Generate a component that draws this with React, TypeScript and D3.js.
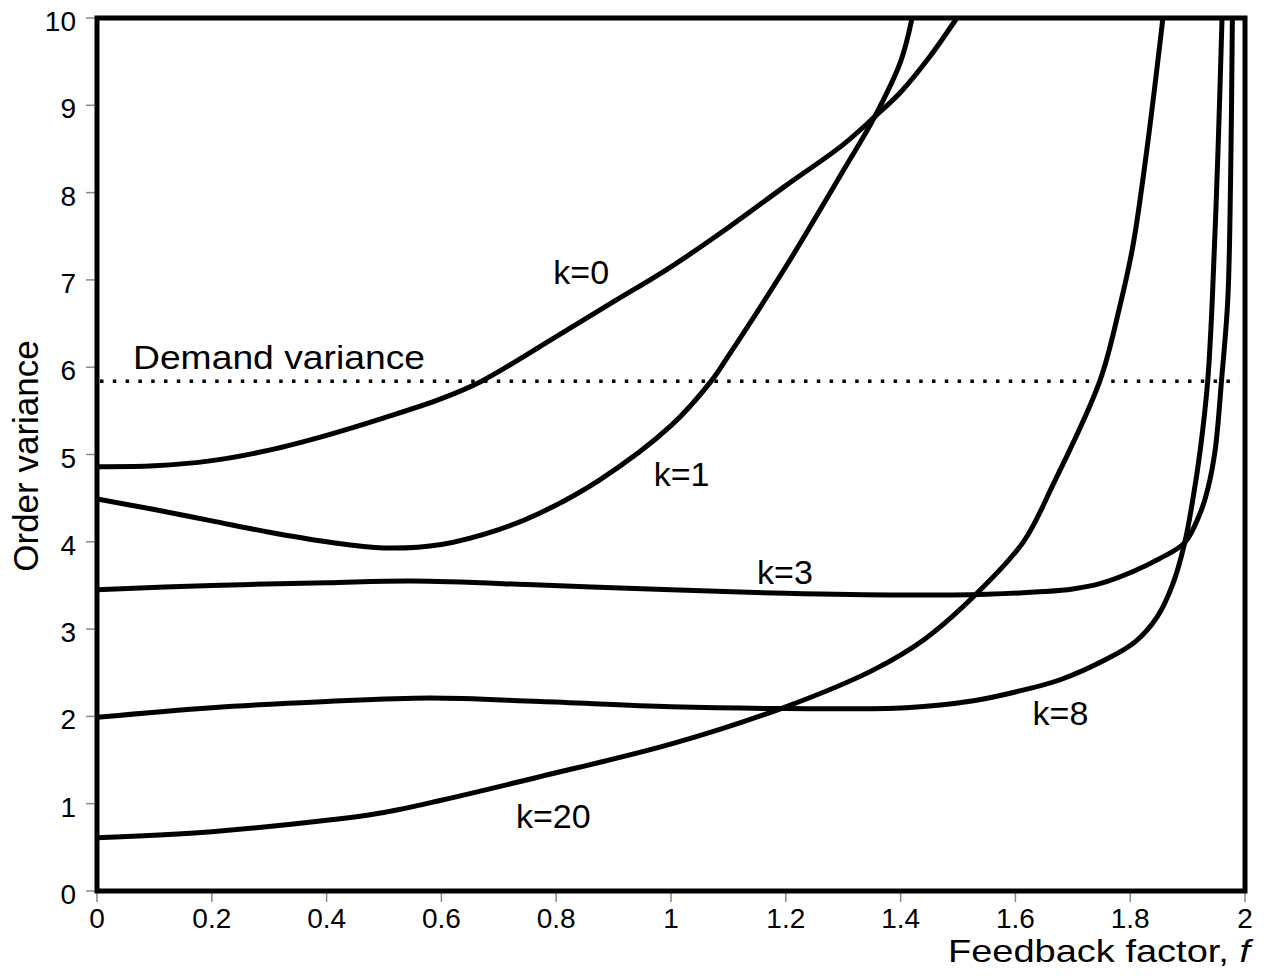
import React, { useEffect, useRef } from "react";
import * as d3 from "d3";

// feedback factor f / order variance
const k0F = [0, 0.1, 0.2, 0.3, 0.4, 0.5, 0.6, 0.67, 0.8, 0.9, 1.0, 1.1, 1.2, 1.3, 1.355, 1.4, 1.45, 1.498];
const k0V = [4.86, 4.87, 4.93, 5.05, 5.22, 5.42, 5.64, 5.84, 6.35, 6.75, 7.15, 7.6, 8.08, 8.55, 8.87, 9.15, 9.55, 10];

const k1F = [0, 0.1, 0.2, 0.3, 0.4, 0.5, 0.6, 0.7, 0.772, 0.876, 1.0, 1.07, 1.1, 1.2, 1.3, 1.355, 1.4, 1.42];
const k1V = [4.49, 4.37, 4.24, 4.11, 4.0, 3.93, 3.97, 4.14, 4.33, 4.71, 5.33, 5.84, 6.13, 7.15, 8.25, 8.87, 9.5, 10];

const k3F = [0, 0.2, 0.4, 0.55, 0.772, 1.0, 1.2, 1.4, 1.55, 1.65, 1.7, 1.747, 1.805, 1.852, 1.895, 1.922, 1.935, 1.948, 1.959, 1.97, 1.975, 1.978];
const k3V = [3.45, 3.5, 3.53, 3.55, 3.505, 3.45, 3.41, 3.39, 3.4, 3.43, 3.46, 3.52, 3.66, 3.81, 3.99, 4.33, 4.6, 5.05, 5.84, 6.77, 8.2, 10];

const k8F = [0, 0.2, 0.4, 0.58, 0.772, 1.0, 1.2, 1.41, 1.527, 1.6, 1.678, 1.76, 1.808, 1.847, 1.875, 1.895, 1.909, 1.922, 1.935, 1.943, 1.953, 1.96];
const k8V = [1.99, 2.1, 2.17, 2.21, 2.17, 2.11, 2.09, 2.1, 2.18, 2.28, 2.42, 2.66, 2.85, 3.14, 3.53, 3.99, 4.48, 5.05, 5.84, 6.77, 8.49, 10];

const k20F = [0, 0.2, 0.4, 0.5, 0.6, 0.772, 1.004, 1.2, 1.352, 1.44, 1.533, 1.614, 1.666, 1.747, 1.782, 1.805, 1.829, 1.857];
const k20V = [0.61, 0.68, 0.81, 0.9, 1.04, 1.31, 1.69, 2.11, 2.53, 2.875, 3.41, 4.0, 4.66, 5.84, 6.7, 7.4, 8.49, 10];

const demandVariance = 5.84;

// label positions in data units (f, variance at baseline)
const labelNames = ["k=0", "k=1", "k=3", "k=8", "k=20"];
const labelF = [0.795, 0.97, 1.15, 1.63, 0.73];
const labelV = [6.95, 4.64, 3.52, 1.90, 0.72];

const xTicks = [0, 0.2, 0.4, 0.6, 0.8, 1, 1.2, 1.4, 1.6, 1.8, 2];
const yTicks = [0, 1, 2, 3, 4, 5, 6, 7, 8, 9, 10];

const App = () => {
  const ref = useRef<SVGSVGElement>(null);

  useEffect(() => {
    const svg = d3.select(ref.current);
    svg.selectAll("*").remove();

    const width = 1266;
    const height = 976;
    const left = 97, right = 1245, top = 18, bottom = 891;
    const font = "'Liberation Sans', Arial, sans-serif";

    const x = d3.scaleLinear().domain([0, 2]).range([left, right]);
    const y = d3.scaleLinear().domain([0, 10]).range([bottom, top]);

    svg.attr("width", width).attr("height", height);
    svg.append("rect").attr("width", width).attr("height", height).attr("fill", "#fff");

    svg.append("defs").append("clipPath").attr("id", "plot")
      .append("rect").attr("x", left).attr("y", top - 3)
      .attr("width", right - left).attr("height", bottom - top + 3);

    // ticks
    const g = svg.append("g");
    xTicks.forEach((t) => {
      g.append("line").attr("x1", x(t)).attr("x2", x(t))
        .attr("y1", bottom + 2).attr("y2", bottom + 11)
        .attr("stroke", "#888").attr("stroke-width", 1.5);
      g.append("text").attr("x", x(t)).attr("y", 928)
        .attr("text-anchor", "middle").attr("font-family", font)
        .attr("font-size", 28).text(String(t));
    });
    yTicks.forEach((t) => {
      g.append("line").attr("x1", left - 11).attr("x2", left - 2)
        .attr("y1", y(t)).attr("y2", y(t))
        .attr("stroke", "#888").attr("stroke-width", 1.5);
      g.append("text").attr("x", 76).attr("y", y(t) + 13)
        .attr("text-anchor", "end").attr("font-family", font)
        .attr("font-size", 28).text(String(t));
    });

    // demand variance dotted line
    svg.append("line")
      .attr("x1", x(0) + 3).attr("x2", x(1.99))
      .attr("y1", y(demandVariance)).attr("y2", y(demandVariance))
      .attr("stroke", "#000").attr("stroke-width", 3.5)
      .attr("stroke-dasharray", "3.5 9.3");

    const line = d3.line<[number, number]>()
      .x((d) => x(d[0])).y((d) => y(d[1]))
      .curve(d3.curveCatmullRom.alpha(0.5));

    const series: [number[], number[]][] = [
      [k0F, k0V], [k1F, k1V], [k3F, k3V], [k8F, k8V], [k20F, k20V],
    ];
    const curves = svg.append("g").attr("clip-path", "url(#plot)");
    series.forEach(([fs, vs]) => {
      curves.append("path")
        .attr("d", line(fs.map((f, i) => [f, vs[i]] as [number, number])))
        .attr("fill", "none").attr("stroke", "#000")
        .attr("stroke-width", 5).attr("stroke-linejoin", "round");
    });

    // frame
    svg.append("rect").attr("x", left).attr("y", top)
      .attr("width", right - left).attr("height", bottom - top)
      .attr("fill", "none").attr("stroke", "#000").attr("stroke-width", 5);

    // curve labels
    labelNames.forEach((name, i) => {
      svg.append("text").attr("x", x(labelF[i])).attr("y", y(labelV[i]))
        .attr("font-family", font).attr("font-size", 34).text(name);
    });
    svg.append("text").attr("x", 133).attr("y", 369)
      .attr("font-family", font).attr("font-size", 34)
      .attr("textLength", 292).attr("lengthAdjust", "spacingAndGlyphs")
      .text("Demand variance");

    // axis titles
    const xt = svg.append("text").attr("x", 948).attr("y", 962)
      .attr("font-family", font).attr("font-size", 32)
      .attr("textLength", 302).attr("lengthAdjust", "spacingAndGlyphs");
    xt.append("tspan").text("Feedback factor, ");
    xt.append("tspan").attr("font-style", "italic").text("f");

    svg.append("text")
      .attr("transform", "translate(38,456) rotate(-90)")
      .attr("text-anchor", "middle").attr("font-family", font).attr("font-size", 35)
      .text("Order variance");
  }, []);

  return <svg ref={ref} style={{ position: "absolute", left: 0, top: 0, display: "block" }} />;
};

export default App;
